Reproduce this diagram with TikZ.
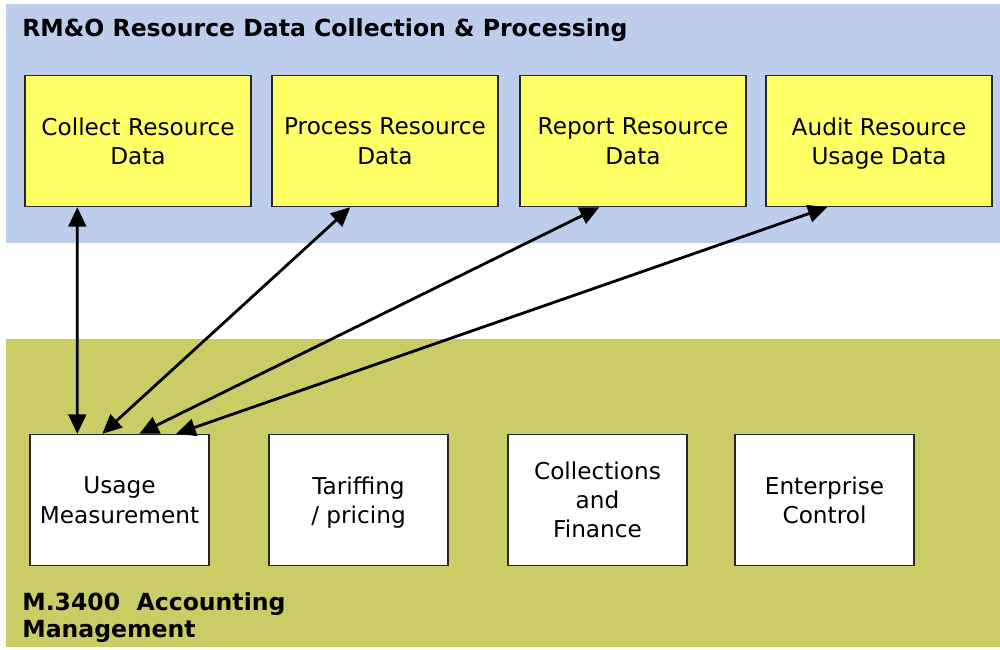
\documentclass[tikz,border=0pt]{standalone}
\usepackage{fontspec}
\setmainfont{DejaVu Sans}
\usetikzlibrary{arrows.meta}

\definecolor{bandblue}{HTML}{BDCDEC}
\definecolor{bandgreen}{HTML}{CCCC66}
\definecolor{boxyellow}{HTML}{FFFF66}

\tikzset{
  procbox/.style={draw=black!85, line width=0.8pt, fill=boxyellow, minimum width=4.52cm, minimum height=2.62cm, align=center, font=\fontsize{13.2}{16.6}\selectfont, text depth=-4.5pt},
  accbox/.style={procbox, fill=white, minimum width=3.58cm},
  link/.style={line width=1.6pt, {Triangle[length=11pt,width=10pt]}-{Triangle[length=11pt,width=10pt]}},
  bandtitle/.style={font=\bfseries\fontsize{13.4}{16}\selectfont, align=left, inner sep=0pt}
}

\begin{document}
\begin{tikzpicture}[x=0.02cm, y=-0.02cm]
    \useasboundingbox (0,0) rectangle (1000,649);
    \fill [bandblue] (6,4) rectangle (1000,243);
    \fill [bandgreen] (6,339) rectangle (1000,647);
    \node [bandtitle, anchor=base west] (rmo) at (22,36) {RM\&O Resource Data Collection \& Processing};
    \node [bandtitle, anchor=base west] (m3400) at (22,610) {M.3400\ \ Accounting};
    \node [bandtitle, anchor=base west] (mgmt) at (22,637) {Management};
    % resource data boxes
    \node [procbox] (collect) at (138,141) {Collect Resource\\Data};
    \node [procbox] (process) at (385,141) {Process Resource\\Data};
    \node [procbox] (report) at (633,141) {Report Resource\\Data};
    \node [procbox] (audit) at (879,141) {Audit Resource\\Usage Data};
    % accounting boxes
    \node [accbox] (usage) at (119.5,500) {Usage\\Measurement};
    \node [accbox] (tariff) at (358.5,500) {Tariffing\\/ pricing};
    \node [accbox] (finance) at (597.5,500) {Collections\\and\\Finance};
    \node [accbox] (enterprise) at (824.5,500) {Enterprise\\Control};
    \draw [link] ([xshift=1.06cm]collect.south west) -- ([xshift=0.96cm]usage.north west);
    \draw [link] ([xshift=1.58cm]process.south west) -- ([xshift=1.46cm]usage.north west);
    \draw [link] ([xshift=1.6cm]report.south west) -- ([xshift=2.2cm]usage.north west);
    \draw [link] ([xshift=1.24cm]audit.south west) -- ([xshift=2.94cm]usage.north west);
  \end{tikzpicture}
\end{document}
